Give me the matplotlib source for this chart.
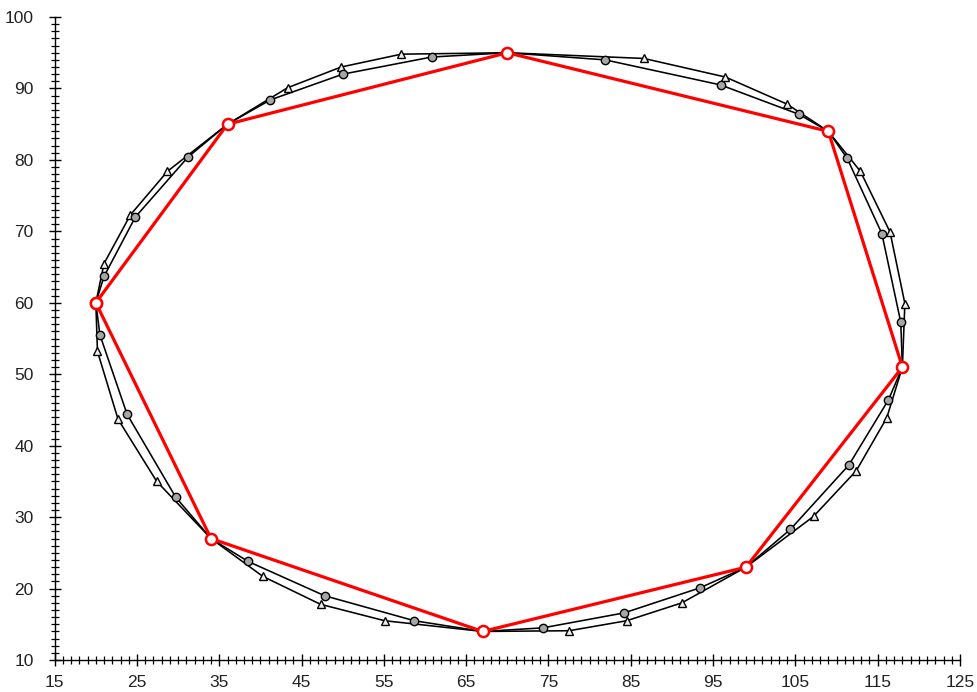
import matplotlib
matplotlib.use("Agg")
import matplotlib.pyplot as plt
from matplotlib.ticker import MultipleLocator

plt.rcParams['font.family'] = ['Liberation Sans', 'DejaVu Sans']

# Control polygon (red)
ctrl_x = [20, 36, 70, 109, 118, 99, 67, 34, 20]
ctrl_y = [60, 85, 95, 84, 51, 23, 14, 27, 60]

# Smoothed curve with grey circle markers
circ_x = [20, 21.0, 24.8, 31.2, 36, 41.2, 50.0, 60.8, 70, 81.9, 95.9, 105.4, 109,
          111.3, 115.5, 117.8, 118, 116.3, 111.5, 104.4, 99, 93.4, 84.2, 74.3, 67,
          58.7, 47.8, 38.5, 34, 29.7, 23.8, 20.5, 20]
circ_y = [60, 63.7, 72.0, 80.4, 85, 88.4, 92.0, 94.4, 95, 94.0, 90.5, 86.4, 84,
          80.2, 69.7, 57.3, 51, 46.4, 37.3, 28.3, 23, 20.1, 16.6, 14.5, 14,
          15.5, 19.0, 23.8, 27, 32.8, 44.4, 55.5, 60]

# Smoothed curve with triangle markers
tri_x = [20, 21.0, 24.2, 28.7, 36, 43.3, 49.8, 57.1, 70, 86.6, 96.5, 104.0, 109,
         112.9, 116.5, 118.3, 118, 116.1, 112.4, 107.2, 99, 91.2, 84.5, 77.5, 67,
         55.1, 47.3, 40.3, 34, 27.4, 22.7, 20.2, 20]
tri_y = [60, 65.5, 72.3, 78.4, 85, 90.1, 93.0, 94.8, 95, 94.2, 91.6, 87.8, 84,
         78.4, 69.9, 59.9, 51, 43.9, 36.5, 30.1, 23, 18.0, 15.5, 14.1, 14,
         15.5, 17.8, 21.7, 27, 35.0, 43.7, 53.2, 60]

x_ticks = [15, 25, 35, 45, 55, 65, 75, 85, 95, 105, 115, 125]
y_ticks = [10, 20, 30, 40, 50, 60, 70, 80, 90, 100]

fig = plt.figure(figsize=(9.78, 6.92), dpi=100)
ax = fig.add_axes([0.0559, 0.0462, 0.9257, 0.9292])

ax.plot(tri_x, tri_y, color='black', lw=1.15, marker='^', ms=6,
        mfc='#eeeeee', mec='black', mew=1.0, zorder=2)
ax.plot(circ_x, circ_y, color='black', lw=1.15, marker='o', ms=6,
        mfc='#a6a6a6', mec='black', mew=1.0, zorder=3)
ax.plot(ctrl_x, ctrl_y, color='#ff0000', lw=2.3, marker='o', ms=8,
        mfc='white', mec='#ff0000', mew=1.8, zorder=4)

ax.set_xlim(15, 125)
ax.set_ylim(10, 100)
ax.set_xticks(x_ticks)
ax.set_yticks(y_ticks)
ax.xaxis.set_minor_locator(MultipleLocator(1))
ax.yaxis.set_minor_locator(MultipleLocator(1))
ax.tick_params(which='major', direction='inout', length=8, width=1.0, labelsize=12.5,
               labelcolor='#222222')
ax.tick_params(which='minor', direction='inout', length=6, width=0.9)
ax.tick_params(axis='x', which='major', pad=7)
ax.tick_params(axis='y', which='major', pad=11)
ax.spines['top'].set_visible(False)
ax.spines['right'].set_visible(False)
for s in ('left', 'bottom'):
    ax.spines[s].set_linewidth(1.0)

fig.savefig('out.png', dpi=100)
